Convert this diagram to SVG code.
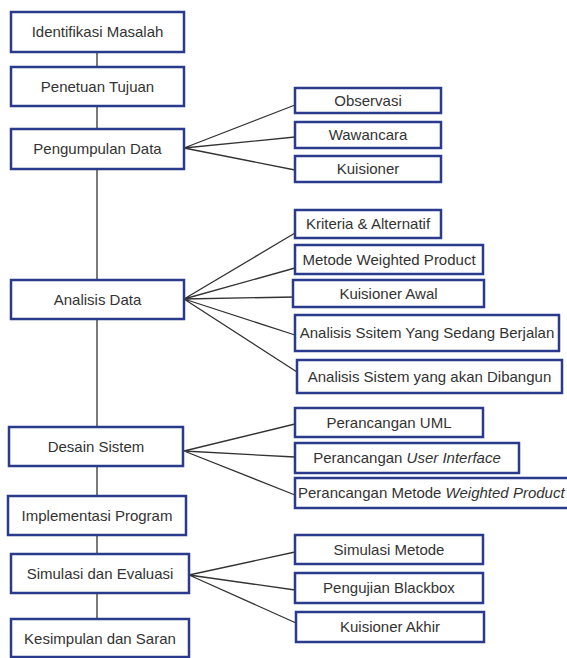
<svg xmlns="http://www.w3.org/2000/svg" width="567" height="658" viewBox="0 0 567 658">
<style>
.box{fill:#fff;stroke:#2a3a8c;stroke-width:2.5}
.t{font-family:"Liberation Sans",Arial,sans-serif;font-size:15px;fill:#333;text-anchor:middle}
.c{stroke:#333;stroke-width:1.3;fill:none}
</style>
<rect width="567" height="658" fill="#fff"/>
<g id="connectors">
<path class="c" d="M97 52V67M97 106V129M97 169V280M97 319V427M97 466V496M97 535V554M97 593V619"/>
<path class="c" d="M184 148L295 105M184 148L295 137M184 148L295 170"/>
<path class="c" d="M184 299L295 233M184 299L295 268M184 299L295 297M184 299L295 335M184 299L297 372"/>
<path class="c" d="M184 451L295 424M184 451L295 457M184 451L295 495"/>
<path class="c" d="M189 575L295 552M189 575L295 590M189 575L296 623"/>
</g>
<g id="n1"><rect class="box" x="11" y="12" width="173" height="40"/><text class="t" x="97.5" y="37">Identifikasi Masalah</text></g>
<g id="n2"><rect class="box" x="11" y="67" width="173" height="39"/><text class="t" x="97.5" y="92">Penetuan Tujuan</text></g>
<g id="n3"><rect class="box" x="11" y="129" width="173" height="40"/><text class="t" x="97.5" y="154">Pengumpulan Data</text></g>
<g id="n4"><rect class="box" x="11" y="280" width="173" height="39"/><text class="t" x="97.5" y="305">Analisis Data</text></g>
<g id="n5"><rect class="box" x="9" y="427" width="174" height="39"/><text class="t" x="96" y="452">Desain Sistem</text></g>
<g id="n6"><rect class="box" x="8" y="496" width="178" height="39"/><text class="t" x="97" y="521">Implementasi Program</text></g>
<g id="n7"><rect class="box" x="11" y="554" width="178" height="39"/><text class="t" x="100" y="579">Simulasi dan Evaluasi</text></g>
<g id="n8"><rect class="box" x="11" y="619" width="178" height="38"/><text class="t" x="100" y="644">Kesimpulan dan Saran</text></g>
<g id="r1"><rect class="box" x="295" y="88" width="146" height="25"/><text class="t" x="368" y="106">Observasi</text></g>
<g id="r2"><rect class="box" x="295" y="122" width="146" height="26"/><text class="t" x="368" y="140">Wawancara</text></g>
<g id="r3"><rect class="box" x="295" y="156" width="146" height="26"/><text class="t" x="368" y="174">Kuisioner</text></g>
<g id="r4"><rect class="box" x="295" y="210" width="146" height="28"/><text class="t" x="368" y="229">Kriteria &amp; Alternatif</text></g>
<g id="r5"><rect class="box" x="295" y="245" width="188" height="29"/><text class="t" x="389" y="265">Metode Weighted Product</text></g>
<g id="r6"><rect class="box" x="293" y="280" width="191" height="27"/><text class="t" x="388.5" y="299">Kuisioner Awal</text></g>
<g id="r7"><rect class="box" x="295" y="315" width="264" height="36"/><text class="t" x="427" y="338">Analisis Ssitem Yang Sedang Berjalan</text></g>
<g id="r8"><rect class="box" x="297" y="360" width="265" height="33"/><text class="t" x="429.5" y="382">Analisis Sistem yang akan Dibangun</text></g>
<g id="r9"><rect class="box" x="295" y="408" width="188" height="29"/><text class="t" x="389" y="428">Perancangan UML</text></g>
<g id="r10"><rect class="box" x="295" y="443" width="224" height="30"/><text class="t" x="407" y="463">Perancangan <tspan font-style="italic">User Interface</tspan></text></g>
<g id="r11"><rect class="box" x="295" y="478" width="285" height="30"/><text class="t" x="298" y="498" text-anchor="start" style="text-anchor:start">Perancangan Metode <tspan font-style="italic">Weighted Product</tspan></text></g>
<g id="r12"><rect class="box" x="295" y="535" width="188" height="29"/><text class="t" x="389" y="555">Simulasi Metode</text></g>
<g id="r13"><rect class="box" x="295" y="573" width="188" height="30"/><text class="t" x="389" y="593">Pengujian Blackbox</text></g>
<g id="r14"><rect class="box" x="296" y="612" width="188" height="30"/><text class="t" x="390" y="632">Kuisioner Akhir</text></g>
</svg>
